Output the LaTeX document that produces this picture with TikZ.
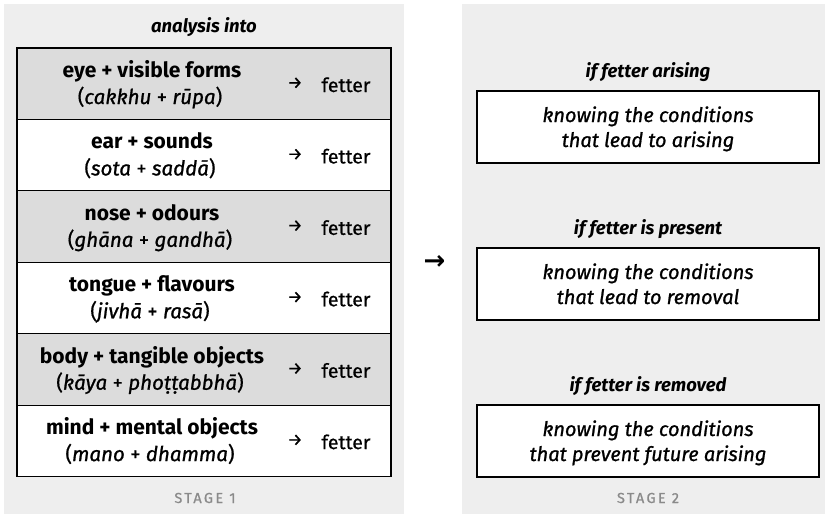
\documentclass[tikz,border=0pt]{standalone}
\usepackage{fontspec}
\setmainfont{Fira Sans}[UprightFeatures={FakeBold=0.7},ItalicFeatures={FakeBold=1.0}]
\newfontfamily\arrowfont{DejaVu Sans}
\definecolor{panelgray}{HTML}{EEEEEE}
\definecolor{rowgray}{HTML}{DCDCDC}
\definecolor{stagegray}{HTML}{8A8A8A}
\begin{document}
\begin{tikzpicture}[x=1pt,y=-1pt,
  panel/.style={fill=panelgray,draw=none,inner sep=0pt},
  rowbox/.style={draw=black,line width=1.1pt,minimum width=374pt,minimum height=71.4pt,inner sep=0pt},
  shaded/.style={rowbox,fill=rowgray},
  plain/.style={rowbox,fill=white},
  sense/.style={font=\fontsize{21}{24}\selectfont\bfseries,anchor=base,inner sep=0pt},
  pali/.style={font=\fontsize{20.5}{24}\selectfont,anchor=base,inner sep=0pt},
  fet/.style={font=\fontsize{19.5}{22}\selectfont,anchor=base,inner sep=0pt},
  smallarr/.style={font=\fontsize{17}{18}\selectfont,anchor=center,inner sep=0pt},
  ttl/.style={font=\fontsize{18.5}{20}\selectfont\bfseries\itshape,anchor=base,inner sep=0pt},
  know/.style={font=\fontsize{20}{22}\selectfont\itshape,anchor=base,inner sep=0pt},
  kbox/.style={draw=black,line width=1.2pt,fill=white,minimum width=342pt,minimum height=72pt,inner sep=0pt},
  stage/.style={font=\fontsize{14.5}{16}\selectfont\addfontfeatures{LetterSpace=16,FakeBold=0},text=stagegray,anchor=base,inner sep=0pt}
]
\useasboundingbox (0,0) rectangle (825,514);
\fill[white] (0,0) rectangle (825,514);
% panels
\node[panel,minimum width=400pt,minimum height=510pt] (lp) at (204,259) {};
\node[panel,minimum width=363pt,minimum height=510pt] (rp) at (643.5,259) {};
% title
\node[ttl] (atitle) at (204,32) {analysis into};
% rows
\foreach \i/\sty/\sn/\pl in {
  1/shaded/{eye + visible forms}/{(\textit{cakkhu} + \textit{rūpa})},
  2/plain/{ear + sounds}/{(\textit{sota} + \textit{saddā})},
  3/shaded/{nose + odours}/{(\textit{ghāna} + \textit{gandhā})},
  4/plain/{tongue + flavours}/{(\textit{jivhā} + \textit{rasā})},
  5/shaded/{body + tangible objects}/{(\textit{kāya} + \textit{phoṭṭabbhā})},
  6/plain/{mind + mental objects}/{(\textit{mano} + \textit{dhamma})}}{
  \pgfmathsetmacro{\rtop}{48+71.42*(\i-1)}
  \node[\sty] (row\i) at (204,\rtop+35.71) {};
  \node[sense] (sn\i) at (152,\rtop+29.5) {\sn};
  \node[pali] (pl\i) at (150,\rtop+56) {\pl};
  \node[smallarr] (ar\i) at (295,\rtop+35) {→};
  \node[fet] (ft\i) at (346,\rtop+44) {fetter};
}
\node[stage] (st1) at (205,503) {STAGE 1};
% middle arrow
\node[inner sep=0pt,font=\fontsize{26}{26}\selectfont\arrowfont\bfseries] (mid) at (434.5,262) {→};
% right side
\node[ttl] (t1) at (648,77) {if fetter arising};
\node[kbox] (k1) at (648,127) {};
\node[know] (k1a) at (648,122) {knowing the conditions};
\node[know] (k1b) at (648,147) {that lead to arising};
\node[ttl] (t2) at (648,234) {if fetter is present};
\node[kbox] (k2) at (648,284) {};
\node[know] (k2a) at (648,279) {knowing the conditions};
\node[know] (k2b) at (648,304) {that lead to removal};
\node[ttl] (t3) at (648,391) {if fetter is removed};
\node[kbox] (k3) at (648,441) {};
\node[know] (k3a) at (648,436) {knowing the conditions};
\node[know] (k3b) at (648,461) {that prevent future arising};
\node[stage] (st2) at (648,503) {STAGE 2};
\end{tikzpicture}
\end{document}
